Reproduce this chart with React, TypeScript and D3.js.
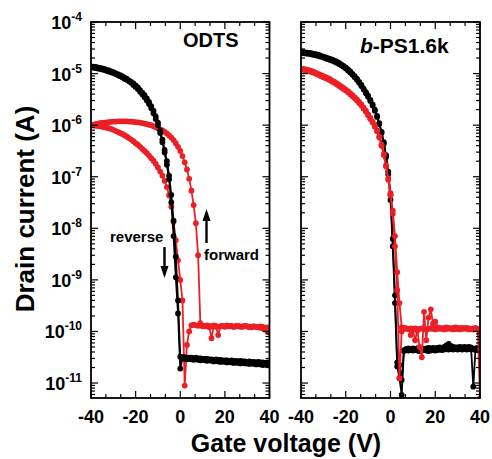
import React from "react";
import * as d3 from "d3";

// Gate voltage sweep (V), 1 V steps
const gateVoltage = d3.range(-40, 41, 1);

// log10(Drain current / A), ODTS panel
const odtsBlackA = [
  -4.86, -4.865, -4.87, -4.88, -4.89, -4.9, -4.91, -4.93, -4.94, -4.96,
  -4.97, -4.99, -5.01, -5.03, -5.05, -5.08, -5.1, -5.13, -5.16, -5.19,
  -5.23, -5.27, -5.32, -5.37, -5.42, -5.48, -5.55, -5.63, -5.72, -5.83,
  -5.95, -6.1, -6.28, -6.48, -6.7, -6.98, -7.35, -7.85, -8.55, -9.4,
  -10.49, -10.5, -10.5, -10.51, -10.51, -10.51, -10.52, -10.51, -10.52, -10.52,
  -10.53, -10.53, -10.53, -10.54, -10.54, -10.55, -10.54, -10.55, -10.55, -10.56,
  -10.56, -10.56, -10.57, -10.56, -10.57, -10.57, -10.58, -10.57, -10.58, -10.58,
  -10.59, -10.58, -10.59, -10.59, -10.6, -10.59, -10.6, -10.6, -10.61, -10.6,
  -10.61,
];
const odtsBlackB = [
  -4.88, -4.885, -4.89, -4.9, -4.91, -4.92, -4.93, -4.945, -4.96, -4.975,
  -4.99, -5.01, -5.03, -5.05, -5.07, -5.1, -5.12, -5.15, -5.18, -5.22,
  -5.26, -5.3, -5.35, -5.4, -5.46, -5.52, -5.59, -5.67, -5.77, -5.88,
  -6.0, -6.15, -6.33, -6.53, -6.77, -7.05, -7.5, -8.15, -8.95, -9.65,
  -10.72, -10.52, -10.53, -10.54, -10.53, -10.54, -10.55, -10.54, -10.55, -10.56,
  -10.55, -10.56, -10.57, -10.56, -10.57, -10.58, -10.57, -10.58, -10.59, -10.58,
  -10.59, -10.6, -10.59, -10.6, -10.61, -10.6, -10.61, -10.62, -10.61, -10.62,
  -10.62, -10.63, -10.62, -10.63, -10.64, -10.63, -10.64, -10.65, -10.64, -10.65,
  -10.66,
];
const odtsRedForward = [
  -6.0, -5.99, -5.98, -5.97, -5.96, -5.955, -5.95, -5.945, -5.94, -5.935,
  -5.93, -5.93, -5.925, -5.925, -5.925, -5.925, -5.925, -5.93, -5.93, -5.935,
  -5.94, -5.945, -5.95, -5.96, -5.97, -5.98, -5.99, -6.0, -6.02, -6.04,
  -6.06, -6.08, -6.1, -6.13, -6.16, -6.2, -6.24, -6.29, -6.35, -6.42,
  -6.5, -6.6, -6.72, -6.86, -7.04, -7.27, -7.55, -7.9, -8.52, -9.84,
  -9.89, -9.9, -9.89, -9.92, -10.13, -9.9, -9.91, -10.07, -9.9, -9.89,
  -9.91, -9.9, -9.89, -9.9, -9.91, -9.89, -9.9, -9.91, -9.9, -9.89,
  -9.9, -9.92, -9.91, -9.9, -9.91, -9.92, -9.9, -9.91, -9.93, -9.92,
  -9.95,
];
const odtsRedReverse = [
  -6.0, -6.005, -6.01, -6.015, -6.02, -6.03, -6.04, -6.05, -6.06, -6.075,
  -6.09, -6.11, -6.13, -6.15, -6.17, -6.195, -6.22, -6.25, -6.28, -6.31,
  -6.35, -6.38, -6.42, -6.46, -6.5, -6.54, -6.59, -6.64, -6.69, -6.75,
  -6.82, -6.9, -6.98, -7.08, -7.2, -7.36, -7.58, -7.88, -8.23, -8.62,
  -9.0, -9.4, -11.05, -10.26, -10.0, -9.88, -9.87, -9.88, -9.89, -9.88,
  -9.9, -9.89, -9.88, -9.89, -9.9, -9.88, -9.89, -9.91, -9.9, -9.89,
  -9.9, -9.88, -9.9, -9.89, -9.91, -9.9, -9.89, -9.9, -9.91, -9.89,
  -9.9, -9.91, -9.92, -9.9, -9.91, -9.92, -9.93, -9.94, -9.96, -9.99,
  -10.02,
];

// log10(Drain current / A), b-PS1.6k panel
const psBlackA = [
  -4.58, -4.585, -4.59, -4.595, -4.6, -4.61, -4.62, -4.63, -4.64, -4.655,
  -4.67, -4.685, -4.7, -4.715, -4.73, -4.75, -4.77, -4.795, -4.82, -4.85,
  -4.88, -4.92, -4.96, -5.005, -5.05, -5.1, -5.16, -5.22, -5.29, -5.36,
  -5.43, -5.51, -5.6, -5.7, -5.82, -5.96, -6.13, -6.33, -6.58, -6.9,
  -7.35, -8.2, -9.3, -10.6, -10.65, -10.94, -10.36, -10.34, -10.33, -10.34,
  -10.33, -10.34, -10.33, -10.32, -10.33, -10.34, -10.33, -10.32, -10.33, -10.32,
  -10.33, -10.32, -10.31, -10.32, -10.3, -10.27, -10.24, -10.28, -10.3, -10.31,
  -10.31, -10.3, -10.31, -10.3, -10.31, -10.3, -10.31, -11.07, -10.33, -10.32,
  -10.35,
];
const psBlackB = [
  -4.6, -4.605, -4.61, -4.615, -4.62, -4.63, -4.64, -4.65, -4.66, -4.675,
  -4.69, -4.705, -4.72, -4.735, -4.75, -4.77, -4.79, -4.815, -4.84, -4.87,
  -4.9, -4.94, -4.98, -5.025, -5.07, -5.12, -5.18, -5.24, -5.31, -5.38,
  -5.45, -5.53, -5.62, -5.72, -5.84, -5.98, -6.15, -6.36, -6.62, -6.95,
  -7.45, -8.35, -9.45, -10.68, -10.9, -11.23, -10.38, -10.36, -10.37, -10.36,
  -10.37, -10.36, -10.37, -10.38, -10.37, -10.36, -10.37, -10.38, -10.37, -10.36,
  -10.37, -10.36, -10.35, -10.36, -10.35, -10.34, -10.35, -10.34, -10.35, -10.34,
  -10.35, -10.34, -10.35, -10.34, -10.35, -10.34, -10.35, -10.34, -10.36, -10.35,
  -10.37,
];
const psRedA = [
  -4.9, -4.91, -4.92, -4.93, -4.94, -4.955, -4.97, -4.99, -5.01, -5.03,
  -5.05, -5.07, -5.09, -5.11, -5.14, -5.16, -5.19, -5.22, -5.25, -5.28,
  -5.31, -5.34, -5.38, -5.42, -5.46, -5.5, -5.55, -5.6, -5.66, -5.72,
  -5.79, -5.86, -5.93, -6.01, -6.1, -6.22, -6.38, -6.56, -6.78, -7.03,
  -7.32, -7.66, -8.15, -8.85, -9.45, -9.92, -9.93, -9.94, -9.95, -10.07,
  -9.96, -10.17, -9.98, -10.3, -10.5, -9.62, -10.17, -9.73, -9.57, -9.85,
  -9.81, -9.92, -9.93, -9.94, -9.93, -9.92, -9.93, -9.94, -9.93, -9.92,
  -9.93, -9.94, -9.93, -9.94, -9.93, -9.94, -9.95, -9.94, -9.93, -9.95,
  -11.3,
];
const psRedB = [
  -4.92, -4.93, -4.94, -4.95, -4.96, -4.975, -4.99, -5.01, -5.03, -5.05,
  -5.07, -5.09, -5.11, -5.13, -5.16, -5.18, -5.21, -5.24, -5.27, -5.3,
  -5.33, -5.36, -5.4, -5.44, -5.48, -5.52, -5.57, -5.62, -5.68, -5.74,
  -5.81, -5.88, -5.95, -6.03, -6.12, -6.24, -6.4, -6.58, -6.8, -7.06,
  -7.36, -7.72, -8.35, -9.2, -10.91, -10.0, -9.95, -9.94, -9.95, -9.94,
  -9.95, -9.94, -9.96, -9.95, -9.94, -9.95, -9.96, -9.95, -9.94, -9.95,
  -9.96, -9.95, -9.94, -9.95, -9.96, -9.95, -9.94, -9.95, -9.96, -9.95,
  -9.95, -9.96, -9.95, -9.94, -9.95, -9.96, -9.95, -9.96, -9.95, -9.96,
  -9.97,
];

const xTickValues = [-40, -20, 0, 20, 40];
const yTickExponents = [-4, -5, -6, -7, -8, -9, -10, -11];

const RED = "#ec1f26";
const BLACK = "#000000";
const FONT = "'Liberation Sans', Arial, Helvetica, sans-serif";

const TOP = 22;
const BOTTOM = 398;

const panels = [
  {
    id: "odts",
    left: 91,
    right: 269.5,
    showYLabels: true,
    series: [
      { values: odtsRedForward, color: RED },
      { values: odtsRedReverse, color: RED },
      { values: odtsBlackA, color: BLACK },
      { values: odtsBlackB, color: BLACK },
    ],
  },
  {
    id: "ps",
    left: 301,
    right: 480,
    showYLabels: false,
    series: [
      { values: psBlackA, color: BLACK },
      { values: psBlackB, color: BLACK },
      { values: psRedA, color: RED },
      { values: psRedB, color: RED },
    ],
  },
];

const yScale = d3
  .scaleLog()
  .domain([Math.pow(10, -11.29), 1e-4])
  .range([BOTTOM, TOP]);

const yMinor: number[] = [];
for (let e = -12; e <= -5; e++) {
  for (let k = 2; k <= 9; k++) {
    const v = k * Math.pow(10, e);
    if (v > yScale.domain()[0] && v < 1e-4) yMinor.push(v);
  }
}

function Panel({ p }: { p: (typeof panels)[number] }) {
  const x = d3.scaleLinear().domain([-40, 40]).range([p.left, p.right]);
  const line = d3
    .line<[number, number]>()
    .x((d) => x(d[0]))
    .y((d) => yScale(Math.pow(10, d[1])));
  const xMinor = d3.range(0, 13).filter((i) => i % 3 !== 0).map((i) => -40 + (i * 20) / 3);
  const MAJ = 7;
  const MIN = 4;
  return (
    <g>
      <defs>
        <clipPath id={`clip-${p.id}`}>
          <rect x={p.left} y={TOP} width={p.right - p.left} height={BOTTOM - TOP} />
        </clipPath>
      </defs>
      <g clipPath={`url(#clip-${p.id})`}>
        {p.series.map((s, si) => {
          const pts: [number, number][] = gateVoltage.map((v, i) => [v, s.values[i]]);
          return (
            <g key={si}>
              <path d={line(pts) || ""} fill="none" stroke={s.color} strokeWidth={1.8} />
              {pts.map((d, i) => (
                <circle key={i} cx={x(d[0])} cy={yScale(Math.pow(10, d[1]))} r={2.9} fill={s.color} />
              ))}
            </g>
          );
        })}
      </g>
      {/* ticks */}
      <g stroke="#000" strokeWidth={1.2}>
        {xTickValues.map((v) => (
          <g key={`xM${v}`}>
            <line x1={x(v)} x2={x(v)} y1={BOTTOM} y2={BOTTOM - MAJ} />
            <line x1={x(v)} x2={x(v)} y1={TOP} y2={TOP + MAJ} />
          </g>
        ))}
        {xMinor.map((v) => (
          <g key={`xm${v}`}>
            <line x1={x(v)} x2={x(v)} y1={BOTTOM} y2={BOTTOM - MIN} />
            <line x1={x(v)} x2={x(v)} y1={TOP} y2={TOP + MIN} />
          </g>
        ))}
        {yTickExponents.map((e) => {
          const yy = yScale(Math.pow(10, e));
          return (
            <g key={`yM${e}`}>
              <line x1={p.left} x2={p.left + MAJ} y1={yy} y2={yy} />
              <line x1={p.right} x2={p.right - MAJ} y1={yy} y2={yy} />
            </g>
          );
        })}
        {yMinor.map((v, i) => {
          const yy = yScale(v);
          return (
            <g key={`ym${i}`}>
              <line x1={p.left} x2={p.left + MIN} y1={yy} y2={yy} />
              <line x1={p.right} x2={p.right - MIN} y1={yy} y2={yy} />
            </g>
          );
        })}
      </g>
      <rect
        x={p.left}
        y={TOP}
        width={p.right - p.left}
        height={BOTTOM - TOP}
        fill="none"
        stroke="#000"
        strokeWidth={1.8}
      />
      {/* x tick labels */}
      {xTickValues.map((v) => (
        <text
          key={`xl${v}`}
          x={x(v)}
          y={423}
          textAnchor="middle"
          fontFamily={FONT}
          fontWeight="bold"
          fontSize={18}
        >
          {v}
        </text>
      ))}
      {p.showYLabels &&
        yTickExponents.map((e) => {
          const yy = yScale(Math.pow(10, e));
          return (
            <text
              key={`yl${e}`}
              x={82}
              y={yy + 7}
              textAnchor="end"
              fontFamily={FONT}
              fontWeight="bold"
              fontSize={18}
            >
              10
              <tspan fontSize={12} dy={-8}>
                {e}
              </tspan>
            </text>
          );
        })}
    </g>
  );
}

export default function App() {
  return (
    <svg
      width={492}
      height={459}
      viewBox="0 0 492 459"
      style={{ position: "absolute", left: 0, top: 0, background: "#fff" }}
    >
      <rect x={0} y={0} width={492} height={459} fill="#fff" />
      {panels.map((p) => (
        <Panel key={p.id} p={p} />
      ))}
      <text x={183} y={47} fontFamily={FONT} fontWeight="bold" fontSize={20}>
        ODTS
      </text>
      <text x={360} y={53} fontFamily={FONT} fontWeight="bold" fontSize={21}>
        <tspan fontStyle="italic">b</tspan>-PS1.6k
      </text>
      <text x={110} y={242} fontFamily={FONT} fontWeight="bold" fontSize={15}>
        reverse
      </text>
      <text x={204} y={260} fontFamily={FONT} fontWeight="bold" fontSize={15}>
        forward
      </text>
      {/* arrows */}
      <line x1={164.5} y1={247} x2={164.5} y2={268} stroke="#000" strokeWidth={2.4} />
      <polygon points="160.5,266 168.5,266 164.5,278" fill="#000" />
      <line x1={206.5} y1={243} x2={206.5} y2={220} stroke="#000" strokeWidth={2.4} />
      <polygon points="202.5,221 210.5,221 206.5,209" fill="#000" />
      {/* axis titles */}
      <text
        transform="translate(34,209) rotate(-90)"
        textAnchor="middle"
        fontFamily={FONT}
        fontWeight="bold"
        fontSize={26}
      >
        Drain current (A)
      </text>
      <text x={286} y={452} textAnchor="middle" fontFamily={FONT} fontWeight="bold" fontSize={25}>
        Gate voltage (V)
      </text>
    </svg>
  );
}
